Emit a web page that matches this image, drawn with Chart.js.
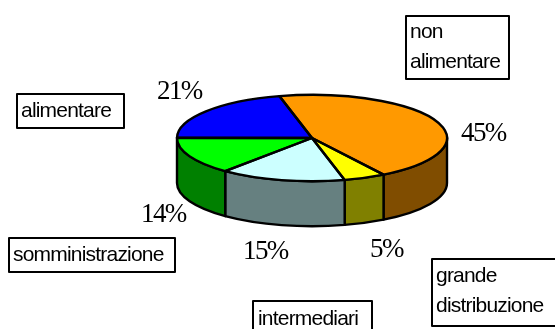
<!DOCTYPE html>
<html><head><meta charset="utf-8">
<style>html,body{margin:0;padding:0;background:#fff;overflow:hidden}#w{width:555px;height:329px;position:relative}</style>
<script src="https://cdn.jsdelivr.net/npm/chart.js@4"></script>
</head><body><div id="w"><canvas id="c" width="555" height="329"></canvas></div>
<script>
const categories = ['non alimentare','grande distribuzione','intermediari','somministrazione','alimentare'];
const values = [45,5,15,14,21];
const pctLabels = ['45%','5%','15%','14%','21%'];
const topColors = ['#ff9900','#ffff00','#ccffff','#00ff00','#0000ff'];
const sideColors = ['#804d00','#808000','#668080','#008000','#000080'];

// layout only
const TILT = 0.32, DEPTH = 45, STROKE = 2.4;
const pctPos = [[461,141],[370,257],[243,259],[141,222],[157,99]];
const boxes = [
  {r:[406,16,103,63], lines:[[410,38,'non'],[410,68,'alimentare']]},
  {r:[432,259,140,67], lines:[[436,282,'grande'],[436,312,'distribuzione']]},
  {r:[253,301,119,40], lines:[[258,325,'intermediari']]},
  {r:[9,238,166,34], lines:[[13,261,'somministrazione']]},
  {r:[17,94,107,34], lines:[[21,117,'alimentare']]}
];

const pie3d = {
  id:'pie3d',
  beforeDatasetsDraw(chart){
    const ctx = chart.ctx, arcs = chart.getDatasetMeta(0).data;
    const {x:cx,y:cy,outerRadius:R} = arcs[0];
    const rx = R, ry = R*TILT;
    ctx.save();
    ctx.lineWidth = STROKE; ctx.strokeStyle = '#000'; ctx.lineJoin='round';
    arcs.forEach((a,i)=>{
      const s = Math.max(a.startAngle,0), e = Math.min(a.endAngle,Math.PI);
      const s2 = Math.max(a.startAngle-2*Math.PI,0), e2 = Math.min(a.endAngle-2*Math.PI,Math.PI);
      [[s,e],[s2,e2]].forEach(([p,q])=>{
        if(q<=p) return;
        ctx.beginPath();
        ctx.ellipse(cx,cy,rx,ry,0,p,q);
        ctx.ellipse(cx,cy+DEPTH,rx,ry,0,q,p,true);
        ctx.closePath();
        ctx.fillStyle = sideColors[i];
        ctx.fill(); ctx.stroke();
      });
    });
    ctx.restore();
    ctx.save();
    ctx.translate(cx,cy); ctx.scale(1,TILT); ctx.translate(-cx,-cy);
  },
  afterDatasetsDraw(chart){
    const ctx = chart.ctx, arcs = chart.getDatasetMeta(0).data;
    ctx.restore();
    const {x:cx,y:cy,outerRadius:R} = arcs[0];
    ctx.save();
    ctx.lineWidth = STROKE; ctx.strokeStyle='#000'; ctx.lineJoin='round';
    arcs.forEach(a=>{
      ctx.beginPath();
      ctx.moveTo(cx,cy);
      ctx.ellipse(cx,cy,R,R*TILT,0,a.startAngle,a.endAngle);
      ctx.closePath();
      ctx.stroke();
    });
    ctx.fillStyle='#000';
    ctx.textBaseline='alphabetic'; ctx.textAlign='left';
    ctx.font='27px "Liberation Serif"';
    ctx.letterSpacing='-1.6px';
    pctLabels.forEach((t,i)=>ctx.fillText(t,pctPos[i][0],pctPos[i][1]));
    ctx.font='21px "Liberation Sans"';
    ctx.letterSpacing='-0.8px';
    ctx.lineWidth=2;
    boxes.forEach(b=>{
      ctx.fillStyle='#fff';
      ctx.fillRect(...b.r); ctx.strokeRect(...b.r);
      ctx.fillStyle='#000';
      b.lines.forEach(([x,y,t])=>ctx.fillText(t,x,y));
    });
    ctx.restore();
  }
};

new Chart(document.getElementById('c'),{
  type:'pie',
  data:{labels:categories,datasets:[{data:values,backgroundColor:topColors,borderWidth:0,hoverOffset:0}]},
  options:{
    responsive:false,animation:false,
    rotation:-14,
    layout:{padding:{left:177,right:108,top:3,bottom:56}},
    plugins:{legend:{display:false},tooltip:{enabled:false},title:{display:false}}
  },
  plugins:[pie3d]
});
</script></body></html>
